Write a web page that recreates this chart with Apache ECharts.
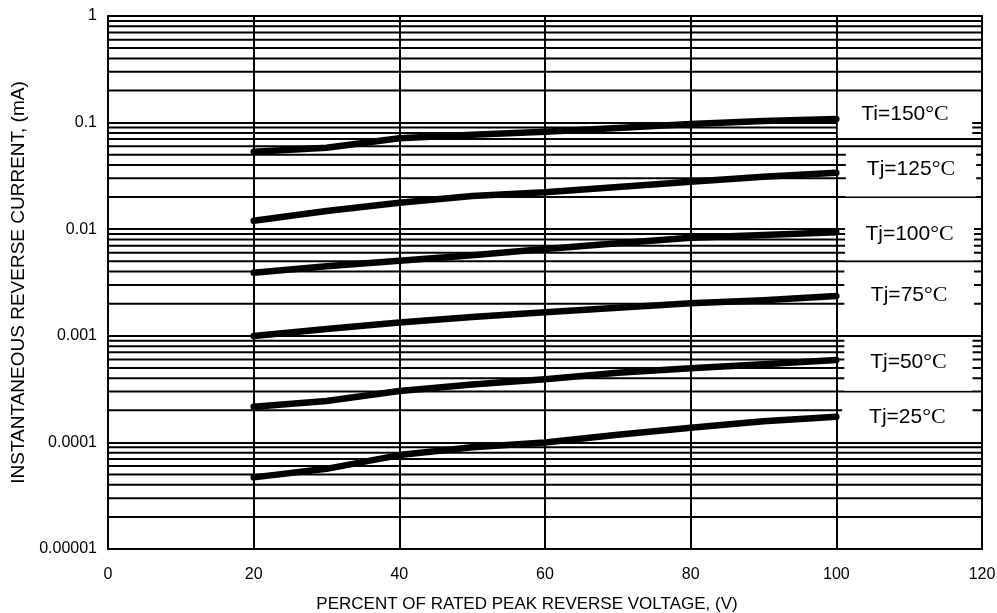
<!DOCTYPE html>
<html>
<head>
<meta charset="utf-8">
<script src="https://cdn.jsdelivr.net/npm/echarts@6/dist/echarts.min.js"></script>
<style>html,body{margin:0;padding:0;background:#fff}#c{width:997px;height:613px}</style>
</head>
<body>
<div id="c"></div>
<script>
// ---- data ----
const xValues = [20, 30, 40, 50, 60, 70, 80, 90, 100];
const tj150 = [0.0533, 0.058, 0.0712, 0.077, 0.0822, 0.089, 0.097, 0.1035, 0.108];
const tj125 = [0.0120, 0.0148, 0.0177, 0.0205, 0.0222, 0.0249, 0.0279, 0.0311, 0.0339];
const tj100 = [0.0039, 0.0045, 0.00507, 0.0057, 0.00652, 0.0074, 0.0083, 0.0088, 0.00934];
const tj75  = [0.000996, 0.00116, 0.00133, 0.0015, 0.00166, 0.00183, 0.00202, 0.00216, 0.00236];
const tj50  = [0.000216, 0.000245, 0.000303, 0.00035, 0.000391, 0.00045, 0.000495, 0.00054, 0.000593];
const tj25  = [0.000047, 0.0000565, 0.000076, 0.00009, 0.0001, 0.000118, 0.000137, 0.000158, 0.000174];
const seriesNames = ['Ti=150', 'Tj=125', 'Tj=100', 'Tj=75', 'Tj=50', 'Tj=25'];
const yTickLabels = ['0.00001', '0.0001', '0.001', '0.01', '0.1', '1'];
const xTickLabels = ['0', '20', '40', '60', '80', '100', '120'];

// ---- label boxes (layout, in data coords) ----
const boxes = [
  {x: [100.2, 118.66], y: [0.1876, 0.0757], off: [0, 0]},
  {x: [101.3, 119.2], y: [0.0578, 0.0203], off: [0, -3]},
  {x: [101.2, 118.9], y: [0.0188, 0.0051], off: [0, 4]},
  {x: [101.1, 118.9], y: [0.0048, 0.00102], off: [0, -4]},
  {x: [101.1, 118.7], y: [0.00097, 0.000305], off: [0, -2]},
  {x: [100.8, 118.7], y: [0.00029, 0.000102], off: [0, 0]}
];

// minor log gridlines
const minorValues = [];
for (let e = -5; e < 0; e++) {
  for (let k = 2; k <= 9; k++) minorValues.push(+(k * Math.pow(10, e)).toPrecision(3));
}

const allSeries = [tj150, tj125, tj100, tj75, tj50, tj25];
const FONT = 'Liberation Sans, Arial, sans-serif';
const GRID_W = 2;

const series = [];
minorValues.forEach(v => {
  series.push({
    type: 'line', z: 1, silent: true, showSymbol: false, symbol: 'none',
    data: [[0, v], [120, v]],
    lineStyle: {color: '#000', width: GRID_W},
    animation: false, emphasis: {disabled: true}
  });
});
series.push({
  type: 'line', z: 3, data: [], silent: true, showSymbol: false,
  markArea: {
    z: 3, silent: true, animation: false,
    itemStyle: {color: '#fff', opacity: 1, borderWidth: 0},
    emphasis: {disabled: true},
    label: {
      show: true, position: 'inside', color: '#000',
      rich: {
        a: {fontFamily: FONT, fontSize: 21, color: '#000'},
        b: {fontFamily: 'Liberation Serif, Times New Roman, serif', fontSize: 22, color: '#000'}
      }
    },
    data: boxes.map((b, i) => [
      {xAxis: b.x[0], yAxis: b.y[0],
       label: {formatter: '{a|' + seriesNames[i] + '}{b|°C}', offset: b.off}},
      {xAxis: b.x[1], yAxis: b.y[1]}
    ])
  }
});
allSeries.forEach((arr, i) => {
  series.push({
    name: seriesNames[i], type: 'line', z: 4,
    data: xValues.map((x, j) => [x, arr[j]]),
    showSymbol: false, symbol: 'none', smooth: false,
    lineStyle: {color: '#000', width: 6.5, cap: 'round', join: 'round'},
    animation: false
  });
});

const chart = echarts.init(document.getElementById('c'));
chart.setOption({
  animation: false,
  backgroundColor: '#fff',
  grid: {left: 108, right: 15, top: 16, bottom: 64, outerBoundsMode: 'none', containLabel: false,
    show: true, borderColor: '#000', borderWidth: GRID_W},
  xAxis: {
    type: 'value', min: 0, max: 120, interval: 20,
    name: 'PERCENT OF RATED PEAK REVERSE VOLTAGE, (V)',
    nameLocation: 'middle', nameGap: 47,
    nameTextStyle: {fontFamily: FONT, fontSize: 17, color: '#000', padding: [0, 36, 0, 0]},
    axisLine: {show: true, lineStyle: {color: '#000', width: GRID_W}},
    axisTick: {show: false},
    axisLabel: {fontFamily: FONT, fontSize: 16, color: '#000', margin: 18,
      formatter: v => xTickLabels[Math.round(v / 20)]},
    splitLine: {show: true, lineStyle: {color: '#000', width: GRID_W}}
  },
  yAxis: {
    type: 'log', logBase: 10, min: 0.00001, max: 1,
    name: 'INSTANTANEOUS REVERSE CURRENT, (mA)',
    nameLocation: 'middle', nameGap: 80,
    nameTextStyle: {fontFamily: FONT, fontSize: 19, color: '#000'},
    axisLine: {show: true, lineStyle: {color: '#000', width: GRID_W}},
    axisTick: {show: false},
    axisLabel: {fontFamily: FONT, fontSize: 16, color: '#000', margin: 11,
      formatter: v => yTickLabels[Math.round(Math.log10(v)) + 5]},
    splitLine: {show: true, lineStyle: {color: '#000', width: GRID_W}}
  },
  series: series
});
</script>
</body>
</html>
